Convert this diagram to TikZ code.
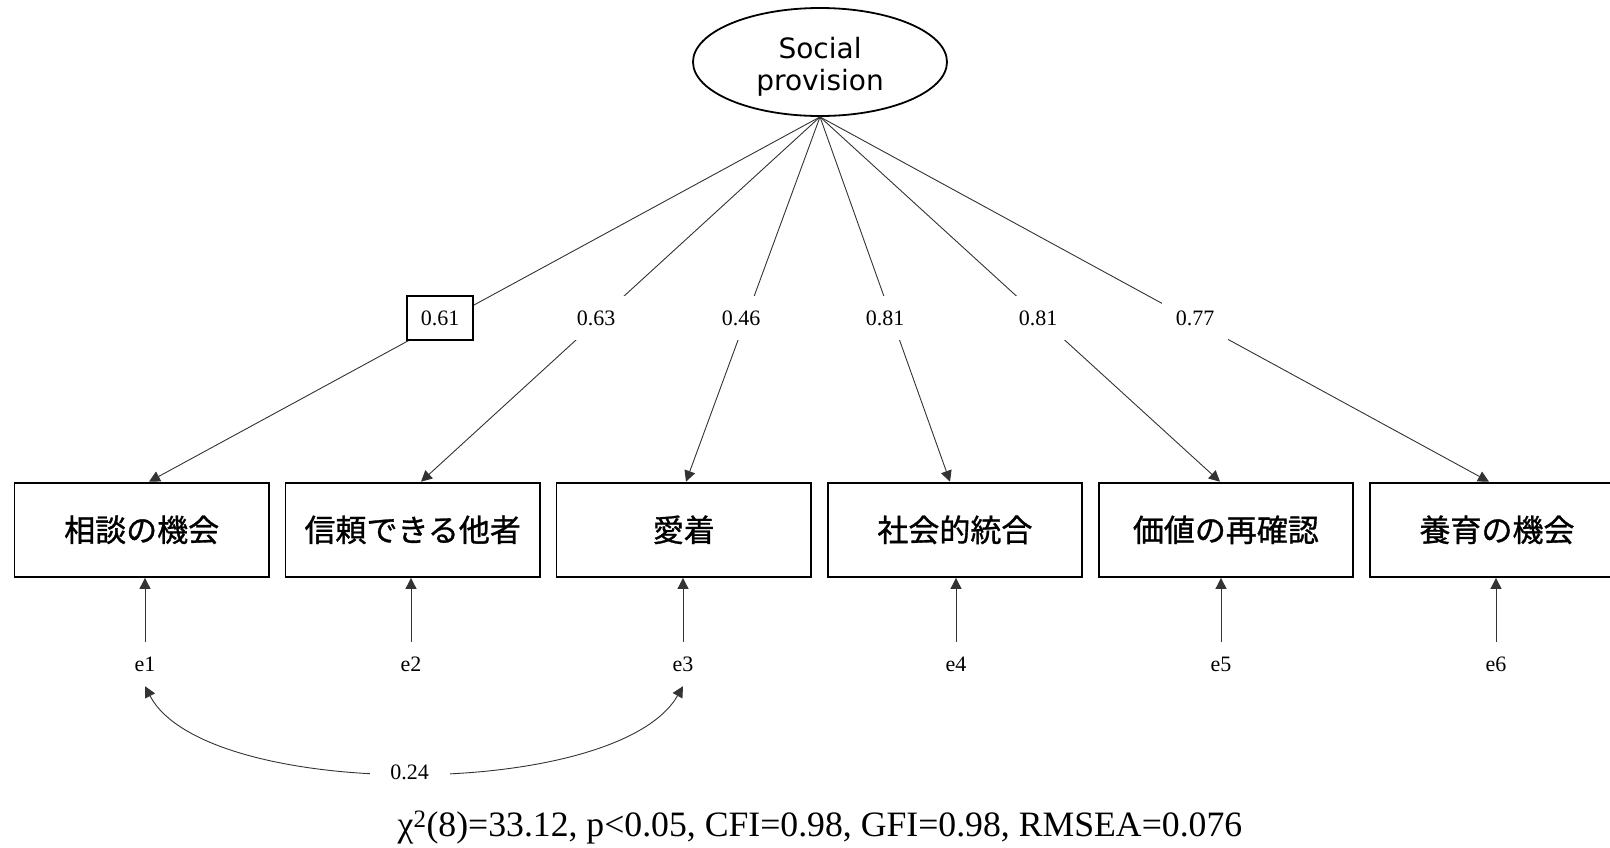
\documentclass[tikz,border=0pt]{standalone}
\usepackage{fontspec}
\setmainfont{Liberation Serif}
\newfontfamily\jpfont[FakeBold=1]{Noto Sans CJK JP}
\newfontfamily\lvfont{DejaVu Sans}
\usetikzlibrary{shapes.geometric,arrows.meta}
\begin{document}
\begin{tikzpicture}[x=1pt,y=-1pt,
  latent/.style={ellipse,draw,line width=1.8pt,minimum width=254pt,minimum height=108pt,
    inner sep=0pt,align=center,font=\lvfont\fontsize{28}{32}\selectfont},
  obs/.style={rectangle,draw,line width=1.8pt,minimum width=254.6pt,minimum height=94.4pt,
    inner sep=0pt,font=\jpfont\fontsize{31}{37}\selectfont},
  err/.style={minimum height=44pt,inner sep=0pt,font=\fontsize{22}{26}\selectfont},
  coef/.style={fill=white,inner sep=0pt,minimum width=66pt,minimum height=44pt,
    font=\fontsize{22}{26}\selectfont},
  tip/.tip={Triangle[length=11pt,width=11pt]},
  link/.style={line width=0.9pt,draw=black!80,-tip},
  cov/.style={line width=0.9pt,draw=black!80,tip-tip},
]
\clip (0,0) rectangle (1610,847);

% latent factor (strut on the first line lowers the two text lines a little)
\node[latent] (sp) at (820,62) {\rule{0pt}{31pt}Social\\provision};

% observed indicators
\node[obs] (b1) at (141.7,529.8) {相談の機会};
\node[obs] (b2) at (412.7,529.8) {信頼できる他者};
\node[obs] (b3) at (683.8,529.8) {愛着};
\node[obs] (b4) at (954.9,529.8) {社会的統合};
\node[obs] (b5) at (1225.9,529.8) {価値の再確認};
\node[obs] (b6) at (1497,529.8) {養育の機会};

% factor loadings
\draw[link] (sp.south) -- ([xshift=7.3pt]b1.north);
\draw[link] (sp.south) -- ([xshift=8.3pt]b2.north);
\draw[link] (sp.south) -- ([xshift=2.2pt]b3.north);
\draw[link] (sp.south) -- ([xshift=-4.9pt]b4.north);
\draw[link] (sp.south) -- ([xshift=-5.9pt]b5.north);
\draw[link] (sp.south) -- ([xshift=-8pt]b6.north);

\node[coef,draw,line width=1.2pt] (l1) at (440,318) {0.61};
\node[coef] (l2) at (596,318) {0.63};
\node[coef] (l3) at (741,318) {0.46};
\node[coef] (l4) at (885,318) {0.81};
\node[coef] (l5) at (1038,318) {0.81};
\node[coef] (l6) at (1195,318) {0.77};

% error terms
\node[err] (e1) at (145,664) {e1};
\node[err] (e2) at (411,664) {e2};
\node[err] (e3) at (683,664) {e3};
\node[err] (e4) at (956,664) {e4};
\node[err] (e5) at (1221,664) {e5};
\node[err] (e6) at (1496,664) {e6};

\foreach \k in {1,...,6}
  \draw[link] (e\k.north) -- (e\k.north |- b\k.south);

% error covariance
\draw[cov] (e1.south) .. controls +(60,115) and +(-66,115) .. (e3.south)
  node[pos=0.497,coef,minimum width=80pt,minimum height=30pt] (c13) {0.24};

% fit indices
\node[font=\fontsize{35.7}{42}\selectfont,inner sep=0pt] (fit) at (820,828)
  {χ\textsuperscript{2}(8)=33.12, p<0.05, CFI=0.98, GFI=0.98, RMSEA=0.076};
\end{tikzpicture}
\end{document}
